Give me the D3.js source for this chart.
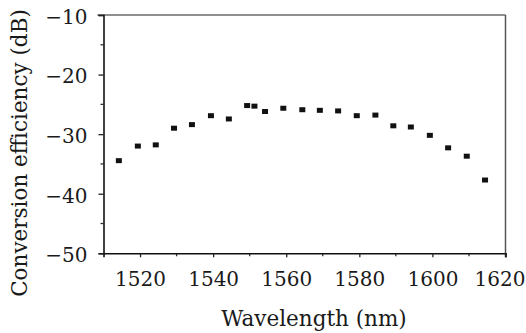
<!DOCTYPE html>
<html>
<head>
<meta charset="utf-8">
<script src="https://cdn.jsdelivr.net/npm/d3@7"></script>
<style>
  body { margin: 0; background: #fff; }
  text { font-family: "DejaVu Serif", "Liberation Serif", serif; fill: #1a1a1a; }
</style>
</head>
<body>
<div id="chart"></div>
<script>
// wavelength (nm) and conversion efficiency (dB)
var wavelength = [1514.2, 1519.4, 1524.3, 1529.3, 1534.2, 1539.4, 1544.3, 1549.3, 1551.3,
  1554.2, 1559.2, 1564.4, 1569.2, 1574.2, 1579.3, 1584.4, 1589.3, 1594.1, 1599.3,
  1604.3, 1609.4, 1614.4];
var efficiency = [-34.45, -32.0, -31.8, -29.0, -28.4, -26.9, -27.45, -25.2, -25.3,
  -26.2, -25.65, -25.9, -26.0, -26.1, -26.9, -26.8, -28.6, -28.8, -30.2,
  -32.3, -33.7, -37.7];
var xTicks = [1520, 1540, 1560, 1580, 1600, 1620];
var yTicks = [-50, -40, -30, -20, -10];

var svgWidth = 526;
var svgHeight = 333;
var margin = { top: 15, right: 20.5, bottom: 80, left: 103.5 };
var width = svgWidth - margin.left - margin.right;
var height = 253.3 - margin.top;

var data = wavelength.map((w, i) => ({ w: w, e: efficiency[i] }));

var svg = d3.select("#chart")
  .append("svg")
  .attr("width", svgWidth)
  .attr("height", svgHeight);

var chartGroup = svg.append("g")
  .attr("transform", `translate(${margin.left}, ${margin.top})`);

var xScale = d3.scaleLinear().domain([1510, 1620]).range([0, width]);
var yScale = d3.scaleLinear().domain([-50, -10]).range([height, 0]);

// frame: top and right in grey
chartGroup.append("line")
  .attr("x1", -6).attr("x2", width).attr("y1", 0).attr("y2", 0)
  .attr("stroke", "#6a6a6a").attr("stroke-width", 1.5);
chartGroup.append("line")
  .attr("x1", width).attr("x2", width).attr("y1", 0).attr("y2", height + 4)
  .attr("stroke", "#555").attr("stroke-width", 1.5);

// minor ticks
var xMinor = d3.range(1520, 1620, 10).filter(v => v % 20 !== 0);
chartGroup.selectAll(".xminor")
  .data(xMinor).enter().append("line")
  .attr("x1", d => xScale(d)).attr("x2", d => xScale(d))
  .attr("y1", height).attr("y2", height + 3)
  .attr("stroke", "#333").attr("stroke-width", 1.3);
var yMinor = [-45, -35, -25, -15];
chartGroup.selectAll(".yminor")
  .data(yMinor).enter().append("line")
  .attr("x1", -3).attr("x2", 0)
  .attr("y1", d => yScale(d)).attr("y2", d => yScale(d))
  .attr("stroke", "#333").attr("stroke-width", 1.3);

// x axis
var bottomAxis = d3.axisBottom(xScale).tickValues(xTicks).tickSize(4).tickPadding(15)
  .tickFormat(d3.format("d"));
var xAxis = chartGroup.append("g")
  .attr("transform", `translate(0, ${height})`)
  .call(bottomAxis);
xAxis.select(".domain").attr("stroke", "#111").attr("stroke-width", 1.6);
xAxis.selectAll(".tick line").attr("stroke", "#222").attr("stroke-width", 1.3);
xAxis.selectAll("text").attr("font-size", "20px").attr("font-family", "DejaVu Serif").attr("fill", "#1a1a1a");
// last label sits a little left of its tick in the reference, keep it in the window
xAxis.selectAll(".tick text").filter(d => d === 1620).attr("dx", "-6");

// y axis
var leftAxis = d3.axisLeft(yScale).tickValues(yTicks).tickSize(5).tickPadding(11)
  .tickFormat(d => "\u2212" + Math.abs(d));
var yAxis = chartGroup.append("g").call(leftAxis);
yAxis.select(".domain").attr("stroke", "#111").attr("stroke-width", 1.6);
yAxis.selectAll(".tick line").attr("stroke", "#222").attr("stroke-width", 1.3);
yAxis.selectAll("text").attr("font-size", "20px").attr("font-family", "DejaVu Serif")
  .attr("fill", "#1a1a1a").attr("dy", "0.42em");

// points
chartGroup.selectAll("rect.pt")
  .data(data).enter().append("rect")
  .attr("class", "pt")
  .attr("x", d => xScale(d.w) - 3)
  .attr("y", d => yScale(d.e) - 2.5)
  .attr("width", 6)
  .attr("height", 5)
  .attr("fill", "#111");

// axis titles
svg.append("text")
  .attr("x", 314)
  .attr("y", 326)
  .attr("text-anchor", "middle")
  .attr("font-size", "21.5px")
  .text("Wavelength (nm)");

svg.append("text")
  .attr("transform", "translate(27, 153) rotate(-90)")
  .attr("text-anchor", "middle")
  .attr("font-size", "21.5px")
  .text("Conversion efficiency (dB)");
</script>
</body>
</html>
